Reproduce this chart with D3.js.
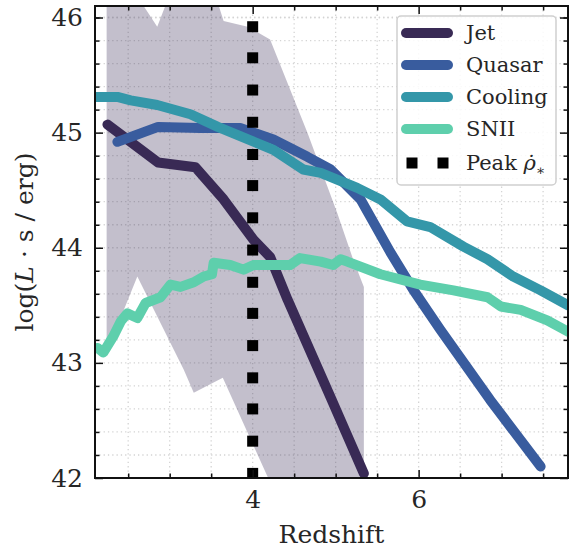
<!DOCTYPE html>
<html>
<head>
<meta charset="utf-8">
<script src="https://cdn.jsdelivr.net/npm/d3@7"></script>
<style>
  html, body { margin: 0; padding: 0; background: #fff; }
  svg { display: block; font-family: "DejaVu Serif", serif; }
</style>
</head>
<body>
<svg id="chart" width="572" height="548"></svg>
<script>
"use strict";

// Redshift / log luminosity
var jetZ = [2.25, 2.86, 3.31, 3.65, 4.01, 4.21, 4.42, 4.94, 5.34];
var jetL = [45.07, 44.74, 44.70, 44.42, 44.07, 43.92, 43.55, 42.70, 42.04];

var quasarZ = [2.37, 2.86, 3.37, 3.85, 4.25, 4.66, 4.94, 5.30, 5.66, 5.94, 6.26, 6.86, 7.47];
var quasarL = [44.92, 45.05, 45.04, 45.04, 44.94, 44.79, 44.68, 44.42, 43.96, 43.63, 43.29, 42.68, 42.10];

var coolingZ = [2.10, 2.37, 2.53, 2.85, 3.25, 3.58, 3.85, 4.25, 4.61, 4.82, 5.26, 5.54, 5.86, 6.14, 6.54, 6.83, 7.14, 7.47, 7.80];
var coolingL = [45.31, 45.31, 45.28, 45.24, 45.16, 45.05, 44.97, 44.85, 44.68, 44.65, 44.52, 44.42, 44.23, 44.18, 44.01, 43.90, 43.75, 43.63, 43.50];

var sniiZ = [2.13, 2.20, 2.32, 2.41, 2.49, 2.61, 2.71, 2.89, 3.01, 3.13, 3.29, 3.41, 3.51, 3.53, 3.73, 3.89, 4.01, 4.21, 4.45, 4.57, 4.82, 4.97, 5.06, 5.14, 5.54, 6.02, 6.42, 6.83, 6.99, 7.23, 7.55, 7.83];
var sniiL = [43.13, 43.09, 43.23, 43.36, 43.43, 43.39, 43.52, 43.57, 43.68, 43.66, 43.70, 43.75, 43.77, 43.87, 43.85, 43.81, 43.85, 43.85, 43.85, 43.91, 43.88, 43.85, 43.90, 43.88, 43.77, 43.68, 43.63, 43.57, 43.49, 43.46, 43.37, 43.26];

// Jet spread band
var bandUpperZ = [2.24, 2.55, 2.85, 3.00, 3.57, 3.65, 3.94, 4.21, 4.66, 5.02, 5.21, 5.34];
var bandUpperL = [46.5, 46.25, 45.92, 46.2, 46.15, 45.97, 45.92, 45.81, 45.00, 44.30, 43.90, 43.66];
var bandLowerZ = [2.24, 2.61, 3.17, 3.29, 3.64, 4.18, 5.34];
var bandLowerL = [43.09, 43.75, 42.94, 42.74, 42.87, 42.01, 40.5];

// Peak of star formation rate density
var peakZ = 4.0;
var peakL = [42.04, 42.32, 42.60, 42.87, 43.15, 43.43, 43.70, 43.98, 44.26, 44.54, 44.81, 45.09, 45.37, 45.65, 45.92];

var seriesNames = ["Jet", "Quasar", "Cooling", "SNII"];
var seriesColors = ["#392a55", "#395c9e", "#3497a9", "#5ecfac"];

var xMajor = [4, 6];
var xMinor = [2.5, 3, 3.5, 4.5, 5, 5.5, 6.5, 7, 7.5];
var yMajor = [42, 43, 44, 45, 46];
var yMinor = [42.2, 42.4, 42.6, 42.8, 43.2, 43.4, 43.6, 43.8, 44.2, 44.4, 44.6, 44.8, 45.2, 45.4, 45.6, 45.8, 46.0];

var pL = 95, pR = 568, pT = 6, pB = 478;

var x = d3.scaleLinear().domain([2.1, 7.8]).range([pL, pR]);
var y = d3.scaleLinear().domain([42, 46.1]).range([pB, pT]);

var svg = d3.select("#chart");

svg.append("clipPath").attr("id", "plotclip")
    .append("rect").attr("x", pL).attr("y", pT).attr("width", pR - pL).attr("height", pB - pT);

// grid
var grid = svg.append("g").attr("stroke", "#d4d4d4").attr("stroke-width", 1.3).attr("stroke-dasharray", "1.3,3");
grid.selectAll("line.gx").data(xMinor.concat(xMajor)).enter().append("line")
    .attr("x1", function (d) { return x(d); }).attr("x2", function (d) { return x(d); })
    .attr("y1", pT).attr("y2", pB);
grid.selectAll("line.gy").data(yMinor.concat(yMajor)).enter().append("line")
    .attr("y1", function (d) { return y(d); }).attr("y2", function (d) { return y(d); })
    .attr("x1", pL).attr("x2", pR);

var plot = svg.append("g").attr("clip-path", "url(#plotclip)");

// band
var bandPts = bandUpperZ.map(function (z, i) { return [x(z), y(bandUpperL[i])]; })
    .concat(bandLowerZ.map(function (z, i) { return [x(z), y(bandLowerL[i])]; }).reverse());
plot.append("path")
    .attr("d", d3.line()(bandPts) + "Z")
    .attr("fill", seriesColors[0]).attr("fill-opacity", 0.3);

// lines
var line = d3.line().x(function (d) { return x(d[0]); }).y(function (d) { return y(d[1]); });
var seriesData = [
    d3.zip(jetZ, jetL),
    d3.zip(quasarZ, quasarL),
    d3.zip(coolingZ, coolingL),
    d3.zip(sniiZ, sniiL)
];
seriesData.forEach(function (s, i) {
    plot.append("path")
        .attr("d", line(s))
        .attr("fill", "none")
        .attr("stroke", seriesColors[i])
        .attr("stroke-width", 10)
        .attr("stroke-linecap", "round")
        .attr("stroke-linejoin", "round");
});

// peak markers
var sq = 11;
plot.selectAll("rect.peak").data(peakL).enter().append("rect")
    .attr("x", x(peakZ) - sq / 2)
    .attr("y", function (d) { return y(d) - sq / 2; })
    .attr("width", sq).attr("height", sq)
    .attr("fill", "#000");

// axes (ticks inward on all sides)
function styleAxis(g) {
    g.select(".domain").remove();
    g.selectAll(".tick line").attr("stroke", "#111").attr("stroke-width", 1.5);
    g.selectAll(".tick text").attr("fill", "#262626").style("font-size", "25px").style("font-family", "DejaVu Serif, serif");
}
svg.append("g").attr("transform", "translate(0," + pB + ")")
    .call(d3.axisBottom(x).tickValues(xMajor).tickSize(-8).tickPadding(12).tickFormat(d3.format("d")))
    .call(styleAxis);
svg.append("g").attr("transform", "translate(0," + pB + ")")
    .call(d3.axisBottom(x).tickValues(xMinor).tickSize(-4.5).tickFormat(""))
    .call(styleAxis);
svg.append("g").attr("transform", "translate(0," + pT + ")")
    .call(d3.axisTop(x).tickValues(xMajor).tickSize(-8).tickFormat(""))
    .call(styleAxis);
svg.append("g").attr("transform", "translate(0," + pT + ")")
    .call(d3.axisTop(x).tickValues(xMinor).tickSize(-4.5).tickFormat(""))
    .call(styleAxis);
svg.append("g").attr("transform", "translate(" + pL + ",0)")
    .call(d3.axisLeft(y).tickValues(yMajor).tickSize(-8).tickPadding(12).tickFormat(d3.format("d")))
    .call(styleAxis);
svg.append("g").attr("transform", "translate(" + pL + ",0)")
    .call(d3.axisLeft(y).tickValues(yMinor).tickSize(-4.5).tickFormat(""))
    .call(styleAxis);
svg.append("g").attr("transform", "translate(" + pR + ",0)")
    .call(d3.axisRight(y).tickValues(yMajor).tickSize(-8).tickFormat(""))
    .call(styleAxis);
svg.append("g").attr("transform", "translate(" + pR + ",0)")
    .call(d3.axisRight(y).tickValues(yMinor).tickSize(-4.5).tickFormat(""))
    .call(styleAxis);

// frame
svg.append("rect").attr("x", pL).attr("y", pT).attr("width", pR - pL).attr("height", pB - pT)
    .attr("fill", "none").attr("stroke", "#111").attr("stroke-width", 2);

// axis labels
svg.append("text").attr("x", (pL + pR) / 2).attr("y", 543)
    .attr("text-anchor", "middle").attr("fill", "#262626").style("font-size", "25px")
    .text("Redshift");
var yl = svg.append("text").attr("transform", "translate(33," + ((pT + pB) / 2) + ") rotate(-90)")
    .attr("text-anchor", "middle").attr("fill", "#262626").style("font-size", "25px");
yl.append("tspan").text("log(");
yl.append("tspan").attr("font-style", "italic").text("L");
yl.append("tspan").text(" \u00b7 s / erg)");

// legend
var lg = svg.append("g");
lg.append("rect").attr("x", 397).attr("y", 16).attr("width", 159).attr("height", 169).attr("rx", 4)
    .attr("fill", "#fff").attr("fill-opacity", 0.85).attr("stroke", "#cfcfcf").attr("stroke-width", 1.5);
var legY = [33, 65, 97, 129];
seriesNames.forEach(function (name, i) {
    lg.append("line").attr("x1", 406).attr("x2", 448).attr("y1", legY[i]).attr("y2", legY[i])
        .attr("stroke", seriesColors[i]).attr("stroke-width", 10).attr("stroke-linecap", "round");
    lg.append("text").attr("x", 466).attr("y", legY[i]).attr("dy", "0.35em")
        .attr("fill", "#262626").style("font-size", "21px").text(name);
});
[412, 443].forEach(function (cx) {
    lg.append("rect").attr("x", cx - sq / 2).attr("y", 163 - sq / 2).attr("width", sq).attr("height", sq).attr("fill", "#000");
});
var pt = lg.append("text").attr("x", 466).attr("y", 163).attr("dy", "0.35em")
    .attr("fill", "#262626").style("font-size", "21px");
pt.append("tspan").text("Peak ");
pt.append("tspan").attr("font-style", "italic").text("\u03c1\u0307");
pt.append("tspan").attr("dy", "5").style("font-size", "14px").text("\u2217");
</script>
</body>
</html>
